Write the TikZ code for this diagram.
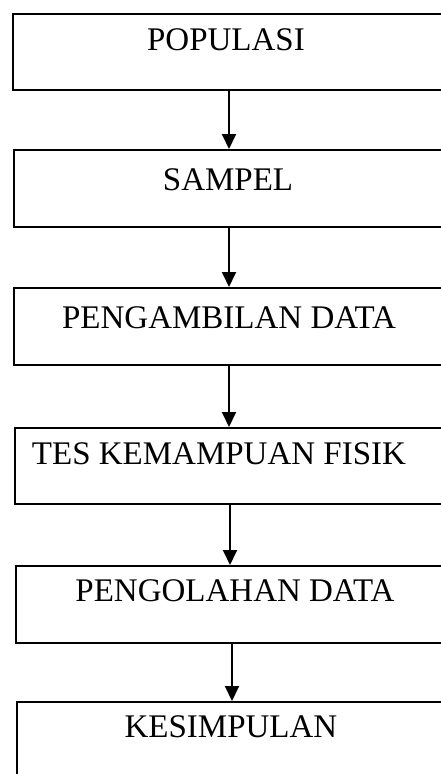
\documentclass[tikz,border=0pt]{standalone}
\usepackage{fontspec}
\setmainfont{Liberation Serif}
\usetikzlibrary{arrows.meta}
\begin{document}
\begin{tikzpicture}[x=1pt,y=-1pt,
  boxst/.style={draw=black, line width=1.9pt, rectangle, minimum width=470pt, anchor=north west, inner sep=0pt},
  lbl/.style={font=\fontsize{33}{39}\selectfont, inner sep=0pt, anchor=center},
  arr/.style={draw=black, line width=1.9pt, -{Triangle[length=15pt,width=14pt]}}]
\useasboundingbox (0,0) rectangle (441,774);
\fill[white] (0,0) rectangle (441,774);
\begin{scope}
\clip (0,0) rectangle (441,774);
\node[boxst, minimum height=76pt] (b1) at (12,13) {};
\node[boxst, minimum height=77pt] (b2) at (13,149) {};
\node[boxst, minimum height=77pt] (b3) at (13,287) {};
\node[boxst, minimum height=76pt] (b4) at (14,427) {};
\node[boxst, minimum height=77pt] (b5) at (15,565) {};
\node[boxst, minimum height=73pt] (b6) at (16,701) {};
\end{scope}
\node[lbl] (t1) at (226,40) {POPULASI};
\node[lbl] (t2) at (228,180) {SAMPEL};
\node[lbl] (t3) at (229,318) {PENGAMBILAN DATA};
\node[lbl] (t4) at (219,454) {TES KEMAMPUAN FISIK};
\node[lbl] (t5) at (235,591) {PENGOLAHAN DATA};
\node[lbl] (t6) at (231,727) {KESIMPULAN};
\coordinate (x1) at (229,0);
\coordinate (x2) at (229,0);
\coordinate (x3) at (229,0);
\coordinate (x4) at (230,0);
\coordinate (x5) at (232,0);
\draw[arr] (b1.south -| x1) -- (b2.north -| x1);
\draw[arr] (b2.south -| x2) -- (b3.north -| x2);
\draw[arr] (b3.south -| x3) -- (b4.north -| x3);
\draw[arr] (b4.south -| x4) -- (b5.north -| x4);
\draw[arr] (b5.south -| x5) -- (b6.north -| x5);
\end{tikzpicture}
\end{document}
